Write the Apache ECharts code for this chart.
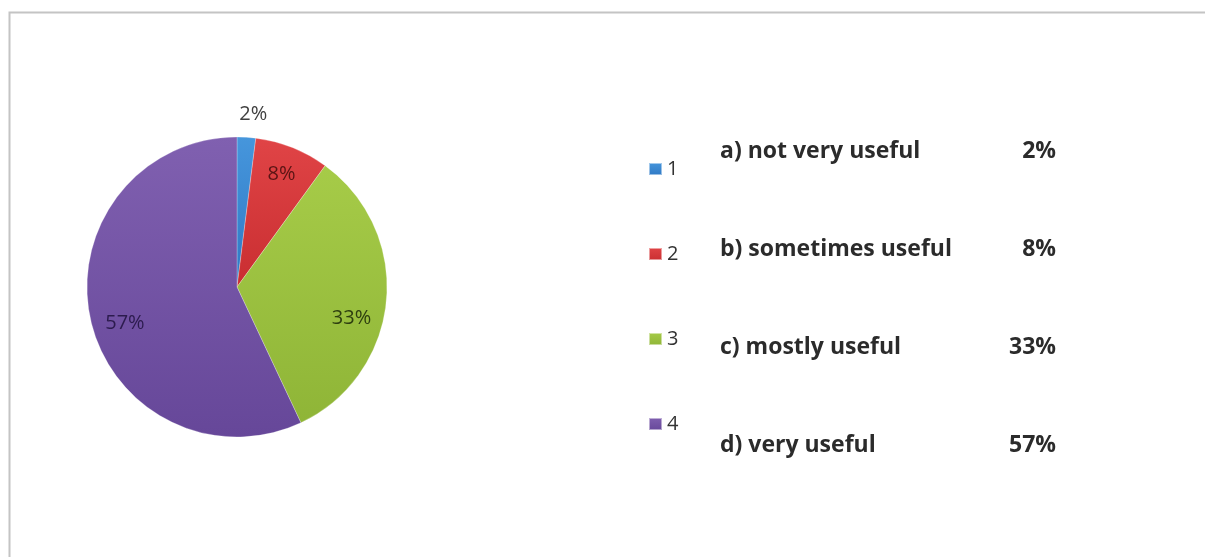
<!DOCTYPE html>
<html>
<head>
<meta charset="utf-8">
<script src="https://cdn.jsdelivr.net/npm/echarts@6/dist/echarts.min.js"></script>
<style>
html,body{margin:0;padding:0;background:#fff;}
#chart{width:1205px;height:557px;}
</style>
</head>
<body>
<div id="chart"></div>
<script>
// ---- data ----
const categories = ['1', '2', '3', '4'];
const values = [2, 8, 33, 57];
const descriptions = ['a) not very useful', 'b) sometimes useful', 'c) mostly useful', 'd) very useful'];
const percentTexts = ['2%', '8%', '33%', '57%'];

// ---- styles ----
const sliceColors = [
  ['#4696dc', '#2f78c4'],
  ['#e04446', '#c92e31'],
  ['#a6cb48', '#8fb537'],
  ['#8060b0', '#664799']
];
const labelColors = ['#404040', '#5a1414', '#2e3f10', '#2c1b4e'];
const labelNudge = [[-13, -9], [0, 0], [-6, 20], [6, 10]];
const FONT = '"Open Sans", Lato, sans-serif';

const chart = echarts.init(document.getElementById('chart'), null, {renderer: 'canvas'});

const grad = (c) => new echarts.graphic.LinearGradient(0, 0, 0, 1, [
  {offset: 0, color: c[0]}, {offset: 1, color: c[1]}
]);

const pieData = categories.map((n, i) => ({
  name: n,
  value: values[i],
  itemStyle: {color: grad(sliceColors[i])}
}));

const labelData = categories.map((n, i) => ({
  name: n,
  value: values[i],
  label: {
    position: i === 0 ? 'outside' : 'inside',
    color: labelColors[i]
  },
  labelLine: {show: false, length: 14, length2: 0}
}));

const tableText = [];
descriptions.forEach((d, i) => {
  const y = 156 + i * 98;
  tableText.push({
    type: 'text', left: 720, top: y - 16,
    style: {text: d, font: 'bold 23px ' + FONT, fill: '#2b2b2b'}
  });
  tableText.push({
    type: 'text', right: 1205 - 1056, top: y - 16,
    style: {text: percentTexts[i], font: 'bold 23px ' + FONT, fill: '#2b2b2b', textAlign: 'right'}
  });
});

chart.setOption({
  backgroundColor: '#ffffff',
  animation: false,
  color: sliceColors.map(c => c[1]),
  legend: {
    data: categories,
    orient: 'vertical',
    left: 643,
    top: 154,
    itemWidth: 13,
    itemHeight: 12,
    itemGap: 65,
    icon: 'rect',
    textStyle: {fontSize: 20, color: '#333', fontFamily: FONT, padding: [0, 0, 0, 0]}
  },
  graphic: [
    {
      type: 'rect', left: 7, top: 10, z: -1,
      shape: {width: 1400, height: 700},
      style: {fill: 'none', stroke: '#c4c4c4', lineWidth: 2}
    }
  ].concat(tableText),
  series: [
    {
      type: 'pie',
      center: [237, 287],
      radius: 150,
      startAngle: 90,
      clockwise: true,
      data: pieData,
      label: {show: false},
      labelLine: {show: false},
      itemStyle: {borderColor: 'rgba(255,255,255,0.5)', borderWidth: 0.5},
      emphasis: {disabled: true}
    },
    {
      type: 'pie',
      silent: true,
      center: [237, 287],
      radius: [86, 150],
      startAngle: 90,
      clockwise: true,
      data: labelData,
      itemStyle: {color: 'rgba(0,0,0,0)'},
      label: {
        show: true,
        formatter: (p) => p.value + '%',
        fontSize: 20,
        fontFamily: FONT
      },
      labelLayout: (p) => ({dx: labelNudge[p.dataIndex][0], dy: labelNudge[p.dataIndex][1]}),
      emphasis: {disabled: true}
    }
  ]
});
</script>
</body>
</html>
